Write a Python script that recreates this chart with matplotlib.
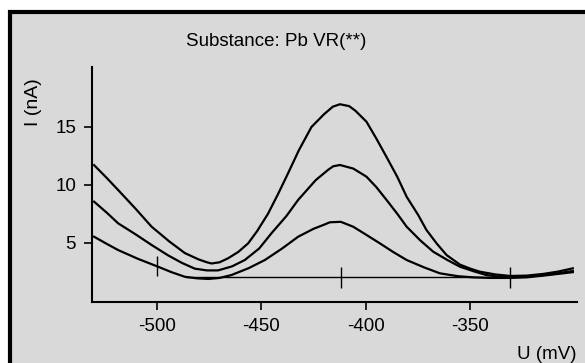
import matplotlib
matplotlib.use("Agg")
import matplotlib.pyplot as plt
from matplotlib.patches import Rectangle

plt.rcParams['font.family'] = ['Liberation Sans', 'DejaVu Sans']
plt.rcParams['axes.unicode_minus'] = False

# potentials (mV) and currents (nA)
u_high = [-530, -524, -518.5, -510, -502.5, -494, -486.6, -480, -476, -473.8, -470, -465.9, -461,
          -456.3, -452, -446.8, -442, -437.2, -432, -426, -420, -415.8, -412.4, -408, -405,
          -399.7, -395, -390.1, -385, -380.5, -375, -371, -366, -361.4, -355, -350, -345.5,
          -338, -331, -323, -315, -308, -301]
i_high = [11.7, 10.6, 9.55, 7.9, 6.38, 5.1, 4.1, 3.55, 3.3, 3.2, 3.3, 3.65, 4.2,
          4.94, 6.0, 7.5, 9.2, 11.0, 13.0, 15.0, 16.1, 16.75, 16.96, 16.8, 16.4,
          15.45, 14.0, 12.4, 10.7, 8.97, 7.4, 6.09, 4.9, 3.93, 3.1, 2.75, 2.49,
          2.25, 2.12, 2.15, 2.3, 2.5, 2.78]

u_mid = [-530, -524, -518.5, -510, -502.5, -494.6, -488, -481.8, -476, -470.7, -464, -457.9,
         -451, -445.2, -438, -432.4, -424, -418, -415.6, -412.4, -406, -399.7, -395, -390.1,
         -385, -380.5, -374, -367.8, -361, -355, -348, -342.3, -336, -331, -323, -315,
         -308, -301]
i_mid = [8.54, 7.6, 6.67, 5.7, 4.8, 3.9, 3.25, 2.75, 2.6, 2.6, 2.95, 3.5,
         4.5, 5.8, 7.3, 8.69, 10.4, 11.3, 11.6, 11.71, 11.4, 10.7, 9.8, 8.69,
         7.5, 6.38, 5.2, 4.22, 3.5, 2.92, 2.5, 2.2, 2.05, 2.05, 2.1, 2.2,
         2.35, 2.55]

u_low = [-530, -524, -518.5, -509, -499.4, -493, -486.6, -481, -475.4, -470, -464.3, -456,
         -448.3, -440, -432.4, -425, -420, -417.2, -412, -406.1, -400, -393.3, -387, -380.5,
         -372, -364.6, -356, -348.6, -340, -331, -323, -315, -308, -301]
i_low = [5.51, 4.9, 4.36, 3.6, 2.92, 2.45, 2.05, 1.92, 1.86, 1.95, 2.2, 2.8,
         3.5, 4.5, 5.51, 6.2, 6.55, 6.76, 6.8, 6.38, 5.7, 4.94, 4.2, 3.5,
         2.85, 2.35, 2.1, 2.0, 1.95, 1.95, 2.0, 2.15, 2.3, 2.45]

# baseline and peak markers
base_u = [-486, -331]
base_i = [2.0, 2.0]
mark_u = [-500, -412, -331]
mark_lo = [2.1, 1.1, 1.1]
mark_hi = [3.85, 2.9, 2.9]

xticks = [-500, -450, -400, -350]
yticks = [5, 10, 15]

fig = plt.figure(figsize=(5.85, 3.63), dpi=100, facecolor='white')
frame = Rectangle((10 / 585, -0.2), 1.2, 1 - 12 / 363 + 0.2, transform=fig.transFigure,
                  facecolor='#d9d9d9', edgecolor='black', linewidth=3.0, zorder=-10)
fig.patches.append(frame)

ax = fig.add_axes([92 / 585, 1 - 302 / 363, (577 - 92) / 585, (302 - 67) / 363])
ax.set_zorder(5)
ax.patch.set_visible(False)
for c_u, c_i in [(u_high, i_high), (u_mid, i_mid), (u_low, i_low)]:
    ax.plot(c_u, c_i, color='black', lw=1.6, solid_joinstyle='round')
ax.plot(base_u, base_i, color='black', lw=1.0)
ax.vlines(mark_u, mark_lo, mark_hi, color='black', lw=1.0)

ax.set_xlim(-531, -299)
ax.set_ylim(-0.13, 20.18)
ax.set_xticks(xticks)
ax.set_yticks(yticks)
ax.spines['top'].set_visible(False)
ax.spines['right'].set_visible(False)
ax.spines['left'].set_linewidth(1.5)
ax.spines['bottom'].set_linewidth(1.5)
ax.tick_params(direction='out', length=5.5, width=1.2, labelsize=13.5, pad=6)

fig.text(276 / 585, 1 - 41 / 363, 'Substance: Pb VR(**)', ha='center', va='center', fontsize=13.5)
fig.text(34 / 585, 1 - 102 / 363, 'I (nA)', ha='center', va='center', rotation=90, fontsize=14)
fig.text(517 / 585, 1 - 346 / 363, 'U (mV)', ha='left', va='top', fontsize=13.5)

fig.savefig('out.png', dpi=100, facecolor='white')
